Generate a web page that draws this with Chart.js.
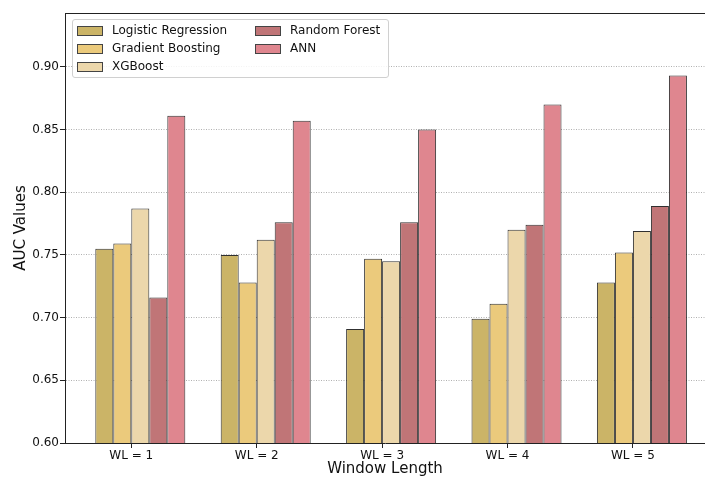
<!DOCTYPE html>
<html>
<head>
<meta charset="utf-8">
<script src="https://cdn.jsdelivr.net/npm/chart.js@4.4.1/dist/chart.umd.min.js"></script>
<style>
  html, body { margin: 0; padding: 0; background: #fff; }
  #wrap { position: relative; width: 705px; height: 477px; }
  #legend {
    position: absolute; left: 72px; top: 19px; width: 315px; height: 57px;
    border: 1px solid #d0d0d0; border-radius: 3px; background: rgba(255,255,255,0.85);
    font-family: "DejaVu Sans", sans-serif; font-size: 12px; color: #111;
  }
  .item { position: absolute; height: 18px; line-height: 18px; white-space: nowrap; }
  .sw { position: absolute; top: 5px; left: 0; width: 24px; height: 8px; border: 1px solid #444; }
  .lbl { position: absolute; left: 35px; top: 0; }
</style>
</head>
<body>
<div id="wrap">
  <canvas id="aucChart" width="705" height="477"></canvas>
  <div id="legend"></div>
</div>
<script>
const categories = ["WL = 1", "WL = 2", "WL = 3", "WL = 4", "WL = 5"];
const models = ["Logistic Regression", "Gradient Boosting", "XGBoost", "Random Forest", "ANN"];
const colors = ["#cbb467", "#ebca7c", "#ecd7ab", "#c07577", "#df868f"];

const logisticRegression = [0.755, 0.750, 0.691, 0.699, 0.728];
const gradientBoosting = [0.759, 0.728, 0.747, 0.711, 0.752];
const xgBoost = [0.787, 0.762, 0.745, 0.770, 0.769];
const randomForest = [0.716, 0.776, 0.776, 0.774, 0.789];
const ann = [0.861, 0.857, 0.850, 0.870, 0.893];

const seriesValues = [logisticRegression, gradientBoosting, xgBoost, randomForest, ann];
const yTicks = [0.60, 0.65, 0.70, 0.75, 0.80, 0.85, 0.90];

// ширина одного столбца в единицах оси x (5 столбцов в группе)
const groupFraction = 0.7177;
const barWidth = groupFraction / models.length;
// метки стоят у левого края среднего столбца, как в matplotlib
const xTickPositions = categories.map((c, i) => i - barWidth / 2);

const datasets = models.map((name, k) => ({
  label: name,
  data: seriesValues[k].map((v, i) => ({ x: i, y: v })),
  backgroundColor: colors[k],
  borderColor: "rgba(25,25,25,0.9)",
  borderWidth: 1,
  borderSkipped: false,
  categoryPercentage: groupFraction,
  barPercentage: 1.0,
}));

const topFrame = {
  id: "topFrame",
  afterDraw(chart) {
    const { ctx, chartArea } = chart;
    ctx.save();
    ctx.strokeStyle = "#222";
    ctx.lineWidth = 1;
    ctx.beginPath();
    ctx.moveTo(chartArea.left, chartArea.top + 0.5);
    ctx.lineTo(chartArea.right, chartArea.top + 0.5);
    ctx.stroke();
    ctx.restore();
  },
};

const ctx = document.getElementById("aucChart").getContext("2d");
const chart = new Chart(ctx, {
  type: "bar",
  data: { datasets: datasets },
  plugins: [topFrame],
  options: {
    responsive: false,
    animation: false,
    layout: { padding: { top: 13, right: 0, bottom: 0, left: 0 } },
    plugins: { legend: { display: false }, tooltip: { enabled: false } },
    scales: {
      x: {
        type: "linear",
        offset: false,
        min: -0.6005,
        max: 4.503,
        afterBuildTicks: (scale) => {
          scale.ticks = xTickPositions.map((v) => ({ value: v }));
        },
        afterFit: (scale) => { scale.height = 34; },
        grid: {
          offset: false,
          drawOnChartArea: false,
          drawTicks: true,
          tickLength: 5,
          tickColor: "#222",
          lineWidth: 1,
        },
        border: { display: true, color: "#222", width: 1 },
        ticks: {
          autoSkip: false,
          maxRotation: 0,
          padding: 1,
          color: "#111",
          font: { family: "DejaVu Sans", size: 12 },
          callback: (value, index) => categories[index],
        },
        title: {
          display: true,
          text: "Window Length",
          color: "#111",
          font: { family: "DejaVu Sans", size: 15 },
          padding: { top: 0, bottom: -1 },
        },
      },
      y: {
        min: 0.60,
        max: 0.9429,
        z: 1,
        afterBuildTicks: (scale) => {
          scale.ticks = yTicks.map((v) => ({ value: v }));
        },
        afterFit: (scale) => { scale.width = 65; },
        grid: {
          color: "#b0b0b0",
          lineWidth: 1,
          drawTicks: true,
          tickLength: 5,
          tickColor: "#222",
          tickBorderDash: [],
        },
        border: { display: true, color: "#222", width: 1, dash: [1, 1.5] },
        ticks: {
          padding: 1,
          color: "#111",
          font: { family: "DejaVu Sans", size: 12 },
          callback: (value) => Number(value).toFixed(2),
        },
        title: {
          display: true,
          text: "AUC Values",
          color: "#111",
          font: { family: "DejaVu Sans", size: 15 },
          padding: { top: 12, bottom: 0 },
        },
      },
    },
  },
});

// легенда внутри области графика, две колонки
const legend = document.getElementById("legend");
models.forEach((name, k) => {
  const col = k < 3 ? 0 : 1;
  const row = k < 3 ? k : k - 3;
  const item = document.createElement("div");
  item.className = "item";
  item.style.left = (col === 0 ? 4 : 182) + "px";
  item.style.top = (1 + row * 18) + "px";
  const sw = document.createElement("span");
  sw.className = "sw";
  sw.style.background = colors[k];
  const lbl = document.createElement("span");
  lbl.className = "lbl";
  lbl.textContent = name;
  item.appendChild(sw);
  item.appendChild(lbl);
  legend.appendChild(item);
});
</script>
</body>
</html>
